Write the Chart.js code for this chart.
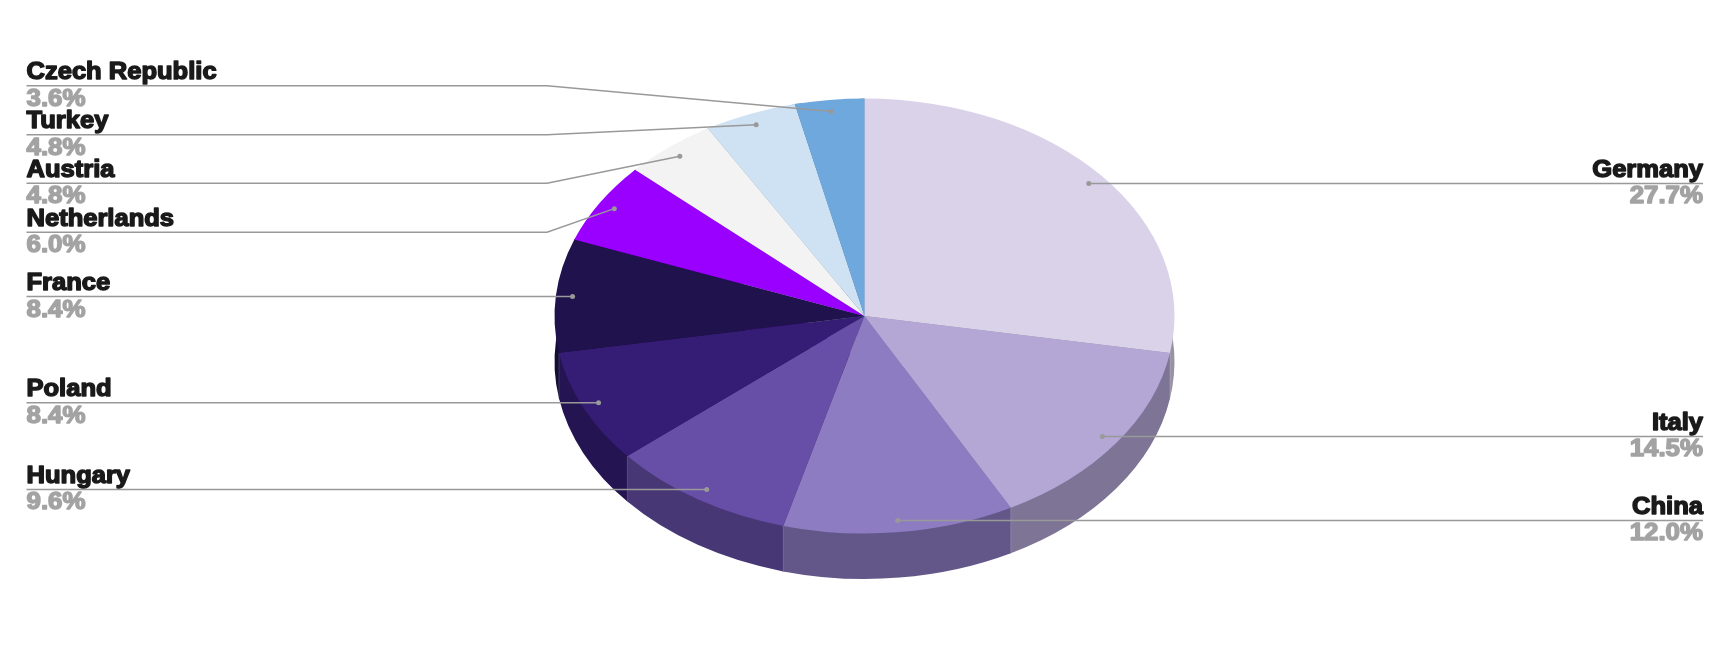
<!DOCTYPE html>
<html>
<head>
<meta charset="utf-8">
<title>Share by country</title>
<script src="https://cdn.jsdelivr.net/npm/chart.js@4"></script>
<style>
  html, body { margin: 0; padding: 0; background: #fff; }
  canvas { display: block; }
</style>
</head>
<body>
<canvas id="pieChart" width="1731" height="668"></canvas>
<script>
// Values, clockwise from 12 o'clock
const countries = ['Germany', 'Italy', 'China', 'Hungary', 'Poland', 'France', 'Netherlands', 'Austria', 'Turkey', 'Czech Republic'];
const shares = [27.71, 14.46, 12.04, 9.64, 8.43, 8.43, 6.02, 4.82, 4.82, 3.61];
const topColors = ['#d9d2e9', '#b4a7d6', '#8e7cc3', '#674ea7', '#351c75', '#20124d', '#9900ff', '#f3f3f3', '#cfe2f3', '#6fa8dc'];

// Look of the tilted pie
const tilt = 217.5 / 310;
const centerY = 316;
const depth = 45.5;
const wallShade = 0.7;
const dotRadius = 0.946;

// The crowded labels at top left sit on their own line, with an elbow towards the dot
const labelLineY = { 'Czech Republic': 85.7, 'Turkey': 134.7, 'Austria': 183.3, 'Netherlands': 232.3 };
const elbowX = 547;
const leftX = 26.5;
const rightX = 1703;
const nameStretch = 1.11;
const valueStretch = 1.125;

function shade(hex, k) {
  const n = parseInt(hex.slice(1), 16);
  const r = Math.round((n >> 16) * k);
  const g = Math.round(((n >> 8) & 255) * k);
  const b = Math.round((n & 255) * k);
  return `rgb(${r},${g},${b})`;
}

function applyTilt(ctx, arc, dy) {
  ctx.translate(0, centerY + dy);
  ctx.scale(1, tilt);
  ctx.translate(0, -arc.y);
}

function rimPoint(arc, angle) {
  return {
    x: arc.x + Math.cos(angle) * arc.outerRadius,
    y: centerY + Math.sin(angle) * arc.outerRadius * tilt
  };
}

// side wall of one slice: the arc again at the bottom, plus the band up to the top face
function drawWall(ctx, arc, color) {
  const original = arc.options;
  arc.options = Object.assign(Object.create(original), { backgroundColor: color });
  ctx.save();
  applyTilt(ctx, arc, depth);
  arc.draw(ctx);
  ctx.restore();
  arc.options = original;

  const a = rimPoint(arc, arc.startAngle);
  const b = rimPoint(arc, arc.endAngle);
  ctx.fillStyle = color;
  ctx.beginPath();
  ctx.moveTo(a.x, a.y);
  ctx.lineTo(b.x, b.y);
  ctx.lineTo(b.x, b.y + depth);
  ctx.lineTo(a.x, a.y + depth);
  ctx.closePath();
  ctx.fill();
}

const tiltedPie = {
  id: 'tiltedPie',
  beforeDatasetsDraw(chart) {
    const ctx = chart.ctx;
    const arcs = chart.getDatasetMeta(0).data;
    const midSin = arc => Math.sin((arc.startAngle + arc.endAngle) / 2);
    // back to front
    const order = arcs.map((arc, i) => i).sort((p, q) => midSin(arcs[p]) - midSin(arcs[q]));
    order.forEach(i => drawWall(ctx, arcs[i], shade(topColors[i], wallShade)));
    // faint seams where the wall changes colour
    ctx.strokeStyle = 'rgba(255,255,255,0.16)';
    ctx.lineWidth = 1;
    arcs.forEach(arc => {
      if (Math.sin(arc.startAngle) <= 0) return;
      const p = rimPoint(arc, arc.startAngle);
      ctx.beginPath();
      ctx.moveTo(p.x, p.y);
      ctx.lineTo(p.x, p.y + depth);
      ctx.stroke();
    });
    ctx.save();
    applyTilt(ctx, arcs[0], 0);
  },
  afterDatasetsDraw(chart) {
    const ctx = chart.ctx;
    ctx.restore();
    chart.getDatasetMeta(0).data.forEach((arc, i) => drawLabel(ctx, arc, i));
  }
};

// heavy, wide lettering: stretched Liberation Sans Bold with an outline on top
function heavyText(ctx, text, x, y, color, stretch) {
  ctx.save();
  ctx.translate(x, y);
  ctx.scale(stretch, 1);
  ctx.fillStyle = ctx.strokeStyle = color;
  ctx.lineWidth = 1.4;
  ctx.lineJoin = 'round';
  ctx.fillText(text, 0, 0);
  ctx.strokeText(text, 0, 0);
  ctx.restore();
}

function drawLabel(ctx, arc, i) {
  const name = countries[i];
  const mid = (arc.startAngle + arc.endAngle) / 2;
  const dotX = arc.x + Math.cos(mid) * arc.outerRadius * dotRadius;
  const dotY = centerY + Math.sin(mid) * arc.outerRadius * tilt * dotRadius;
  const onRight = dotX > arc.x;
  const lineY = labelLineY[name] !== undefined ? labelLineY[name] : dotY;
  const edgeX = onRight ? rightX : leftX;

  ctx.save();
  ctx.strokeStyle = '#999999';
  ctx.fillStyle = '#999999';
  ctx.lineWidth = 1.5;
  ctx.beginPath();
  ctx.moveTo(edgeX, lineY);
  if (lineY !== dotY) ctx.lineTo(elbowX, lineY);
  ctx.lineTo(dotX, dotY);
  ctx.stroke();
  ctx.beginPath();
  ctx.arc(dotX, dotY, 2.5, 0, Math.PI * 2);
  ctx.fill();

  ctx.font = 'bold 23px "Liberation Sans"';
  ctx.textAlign = onRight ? 'right' : 'left';
  ctx.textBaseline = 'alphabetic';
  heavyText(ctx, name, edgeX, lineY - 6.5, '#1a1a1a', nameStretch);
  heavyText(ctx, shares[i].toFixed(1) + '%', edgeX, lineY + 20, '#a3a3a3', valueStretch);
  ctx.restore();
}

new Chart(document.getElementById('pieChart').getContext('2d'), {
  type: 'pie',
  data: {
    labels: countries,
    datasets: [{
      data: shares,
      backgroundColor: topColors,
      borderWidth: 0,
      clip: false
    }]
  },
  options: {
    responsive: false,
    animation: false,
    layout: { padding: { top: 24, bottom: 24, right: 2 } },
    plugins: {
      legend: { display: false },
      tooltip: { enabled: false }
    }
  },
  plugins: [tiltedPie]
});
</script>
</body>
</html>
